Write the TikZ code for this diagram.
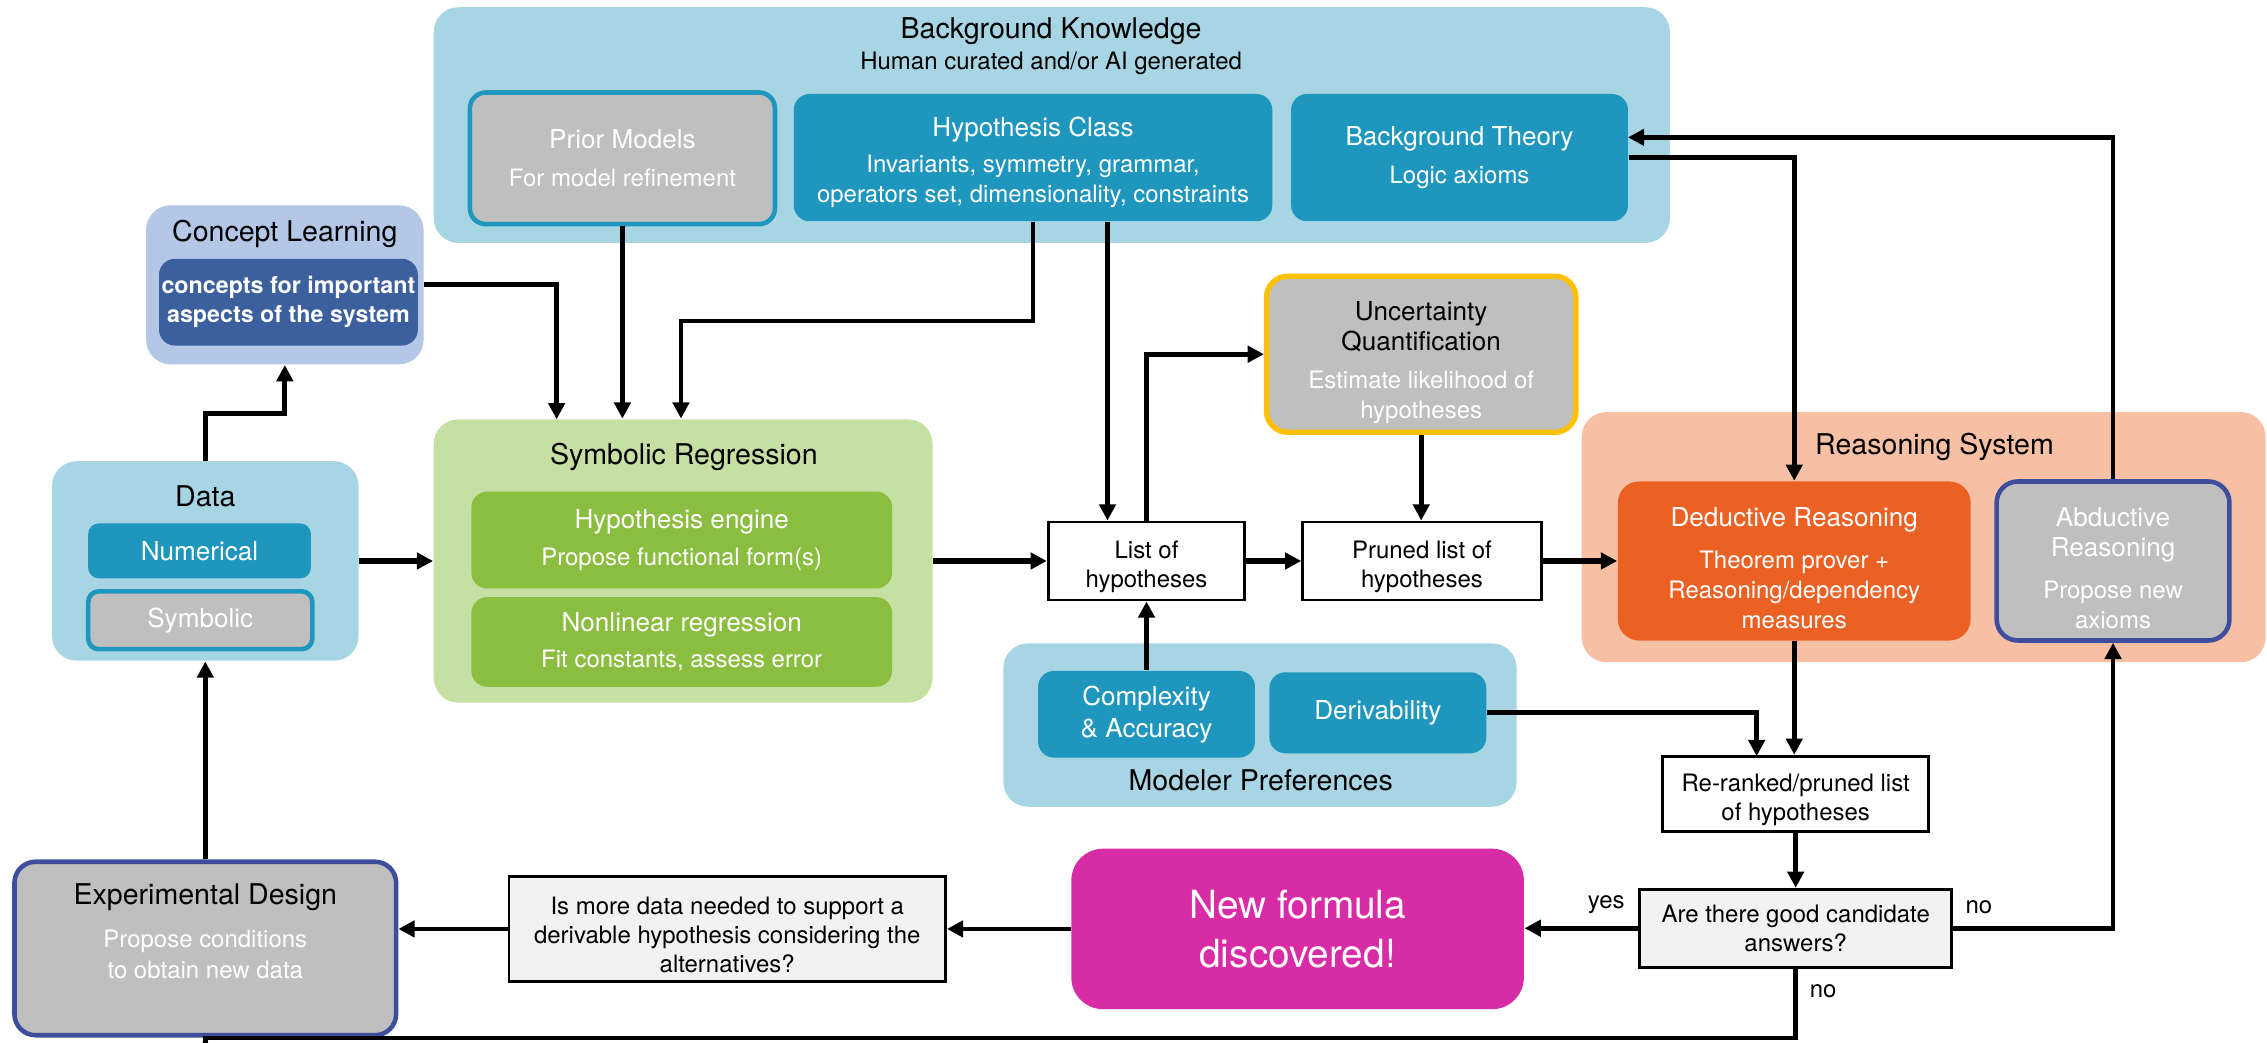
\documentclass[tikz,border=0pt]{standalone}
\usepackage{fontspec}
\setmainfont{TeX Gyre Heros}
\usetikzlibrary{arrows.meta}

\definecolor{bkblue}{HTML}{A7D5E4}
\definecolor{tealbox}{HTML}{1E96BD}
\definecolor{greybox}{HTML}{BFBFBF}
\definecolor{clblue}{HTML}{B4C7E7}
\definecolor{cldark}{HTML}{3C5F9E}
\definecolor{srlight}{HTML}{C6DFA2}
\definecolor{srgreen}{HTML}{8BBE40}
\definecolor{rslight}{HTML}{F7C0A5}
\definecolor{rsorange}{HTML}{EB6124}
\definecolor{navyline}{HTML}{3E4E9D}
\definecolor{uqyellow}{HTML}{FFC000}
\definecolor{formulapink}{HTML}{D82BA6}
\definecolor{palegrey}{HTML}{F2F2F2}

\newcommand{\boxtitle}[1]{{\fontsize{7.4}{9}\selectfont #1}}
\newcommand{\grouptitle}[1]{{\fontsize{8.1}{9.7}\selectfont #1}}
\newcommand{\toppad}[1]{\rule{0pt}{#1}}

\tikzset{
  boxsize/.style 2 args={minimum width=#1*0.41pt, minimum height=#2*0.41pt},
  groupbox/.style={rounded corners=7pt, inner sep=0pt},
  panel/.style={rounded corners=4.5pt, inner sep=0pt, align=center, text=white, font=\fontsize{6.8}{8.6}\selectfont},
  listbox/.style={draw=black, line width=0.8pt, inner sep=0pt, align=center, font=\fontsize{6.8}{8.3}\selectfont},
  heading/.style={font=\fontsize{8.1}{9.7}\selectfont, align=center},
  lbl/.style={font=\fontsize{6.8}{8.6}\selectfont},
  flow/.style={line width=1.35pt, -{Triangle[length=4.6pt,width=4.6pt]}},
  mainflow/.style={flow, line width=1.6pt}
}

\begin{document}
\begin{tikzpicture}[x=0.41pt, y=-0.41pt]
\useasboundingbox (0,0) rectangle (1568,721);

\node[groupbox, fill=bkblue, boxsize={855}{163}] (BK) at (727.5,86.5) {};
\node[lbl, align=center] (BKT) at (727,32) {\grouptitle{Background Knowledge}\\Human curated and/or AI generated};
\node[panel, fill=greybox, draw=tealbox, line width=1.3pt, boxsize={211}{91}] (PM) at (430.5,109.5) {\boxtitle{Prior Models}\\[2.1pt]For model refinement};
\node[panel, fill=tealbox, boxsize={331}{88}] (HC) at (714.5,109) {\toppad{8.3pt}\boxtitle{Hypothesis Class}\\[1.7pt]Invariants, symmetry, grammar,\\operators set, dimensionality, constraints};
\node[panel, fill=tealbox, boxsize={233}{88}] (BT) at (1009.5,109) {\boxtitle{Background Theory}\\[2.1pt]Logic axioms};

\node[groupbox, fill=clblue, boxsize={192}{110}] (CL) at (197,197) {};
\node[heading] (CLT) at (197,162) {Concept Learning};
\node[panel, fill=cldark, font=\fontsize{6.6}{8.2}\selectfont\bfseries, boxsize={179}{60}] (CI) at (199.5,209) {concepts for important\\aspects of the system};

\node[groupbox, fill=bkblue, boxsize={212}{138}] (D) at (142,388) {};
\node[heading] (DT) at (142,343) {Data};
\node[panel, fill=tealbox, rounded corners=3pt, font=\fontsize{7.4}{9}\selectfont, boxsize={154}{38}] (NU) at (138,381) {Numerical};
\node[panel, fill=greybox, draw=tealbox, line width=1.3pt, rounded corners=3pt, font=\fontsize{7.4}{9}\selectfont, boxsize={155}{40}] (SY) at (138.5,429) {Symbolic};

\node[groupbox, fill=srlight, boxsize={345}{196}] (SR) at (472.5,388) {};
\node[heading] (SRT) at (473,316) {Symbolic Regression};
\node[panel, fill=srgreen, boxsize={291}{67}] (HE) at (471.5,373.5) {\boxtitle{Hypothesis engine}\\[1.7pt]Propose functional form(s)};
\node[panel, fill=srgreen, boxsize={291}{62}] (NR) at (471.5,444) {\boxtitle{Nonlinear regression}\\[1.7pt]Fit constants, assess error};

\node[listbox, fill=white, boxsize={136}{54}] (L) at (793,388) {\toppad{8.5pt}List of\\hypotheses};
\node[listbox, fill=white, boxsize={165}{54}] (P) at (983.5,388) {\toppad{8.5pt}Pruned list of\\hypotheses};
\node[panel, fill=greybox, draw=uqyellow, line width=1.5pt, rounded corners=6pt, boxsize={214}{108}] (UQ) at (983,245) {\toppad{10.2pt}\textcolor{black}{\boxtitle{Uncertainty}}\\\textcolor{black}{\boxtitle{Quantification}}\\[2.1pt]Estimate likelihood of\\hypotheses};

\node[groupbox, fill=rslight, boxsize={473}{173}] (RS) at (1330.5,371.5) {};
\node[heading] (RST) at (1338,309) {Reasoning System};
\node[panel, fill=rsorange, rounded corners=6pt, boxsize={244}{110}] (DR) at (1241,388) {\toppad{9.5pt}\boxtitle{Deductive Reasoning}\\[3.3pt]Theorem prover +\\Reasoning/dependency\\measures};
\node[panel, fill=greybox, draw=navyline, line width=1.3pt, rounded corners=6pt, boxsize={161}{110}] (AR) at (1461.5,388) {\toppad{9.5pt}\boxtitle{Abductive}\\\boxtitle{Reasoning}\\[3.3pt]Propose new\\axioms};

\node[groupbox, fill=bkblue, boxsize={355}{113}] (MP) at (871.5,501.5) {};
\node[heading] (MPT) at (872,540) {Modeler Preferences};
\node[panel, fill=tealbox, font=\fontsize{7.4}{9}\selectfont, boxsize={150}{60}] (CA) at (793,494) {Complexity\\\& Accuracy};
\node[panel, fill=tealbox, font=\fontsize{7.4}{9}\selectfont, boxsize={150}{56}] (DV) at (953,493) {Derivability};

\node[listbox, fill=white, boxsize={184}{52}] (R) at (1242,549) {\toppad{8.3pt}Re-ranked/pruned list\\of hypotheses};
\node[listbox, fill=palegrey, boxsize={216}{54}] (Q) at (1242,642) {Are there good candidate\\answers?};
\node[panel, fill=formulapink, rounded corners=9pt, font=\fontsize{11}{14}\selectfont, boxsize={313}{111}] (N) at (897.5,642.5) {New formula\\discovered!};
\node[listbox, fill=palegrey, boxsize={302}{73}] (M) at (503,642.5) {\toppad{8.3pt}Is more data needed to support a\\derivable hypothesis considering the\\alternatives?};
\node[panel, fill=greybox, draw=navyline, line width=1.3pt, rounded corners=6pt, boxsize={264}{120}] (E) at (142,656) {};
\node[lbl, text=white, align=center] (ET) at (142,644) {\textcolor{black}{\grouptitle{Experimental Design}}\\[3.7pt]Propose conditions\\to obtain new data};

\coordinate (C1) at (170,286);
\coordinate (C2) at (385,290);
\coordinate (H1) at (471,222);
\coordinate (H2) at (766,0);
\coordinate (B1) at (1126,95);
\coordinate (R1) at (1215,523);
\coordinate (U1) at (1242,718);
\coordinate (U2) at (142,718);

\draw[mainflow] (D) -- (SR);
\draw[mainflow] (SR) -- (L);
\draw[mainflow] (L) -- (P);
\draw[mainflow] (P) -- (DR);

\draw[flow] (D.north) |- (C1) -| (CL.south);
\draw[flow] (CL.east) -| (C2);
\draw[flow] (PM.south) -- (PM.south |- SR.north);
\draw[flow] (HC.south) |- (H1) -- (H1 |- SR.north);
\draw[flow] (HC.south -| H2) -- (H2 |- L.north);
\draw[flow] (L.north) |- (UQ.west);
\draw[flow] (UQ.south) -- (UQ.south |- P.north);
\draw[flow] (CA.north) -- (L.south);

\draw[flow] (BT.east) -| (DR.north);
\draw[flow] (AR.north) |- (B1);
\draw[flow] (DV.east) -| (R1);
\draw[flow] (DR.south) -- (DR.south |- R.north);
\draw[flow] (R) -- (Q);

\draw[flow] (Q.west) -- node[lbl, pos=0.28, above] (Y) {yes} (Q.west -| N.east);
\draw[flow] (Q.east) -| node[lbl, pos=0.08, above] (NO1) {no} (AR.south);
\draw[flow] (Q.south) -- node[lbl, pos=0.33, right] (NO2) {no} (U1) -- (U2) -- (E.south);
\draw[flow] (N.west) -- (N.west -| M.east);
\draw[flow] (M.west) -- (M.west -| E.east);
\draw[flow] (E) -- (D);
\end{tikzpicture}
\end{document}
